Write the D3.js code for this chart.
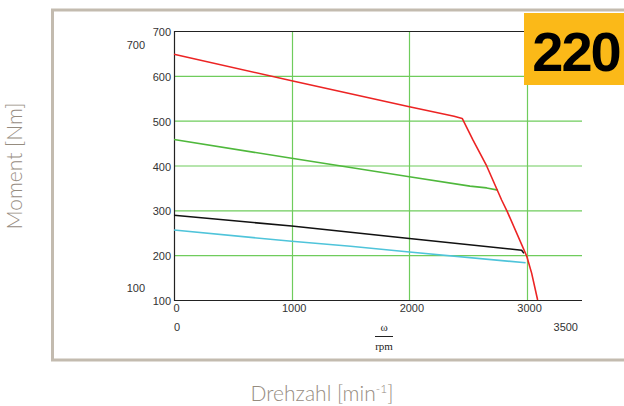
<!DOCTYPE html>
<html>
<head>
<meta charset="utf-8">
<script src="https://cdn.jsdelivr.net/npm/d3@7"></script>
<style>
  html, body { margin: 0; padding: 0; background: #fff; }
  svg { display: block; }
</style>
</head>
<body>
<svg id="chart" width="624" height="406"></svg>
<script>
// ---- data (rpm, Nm) ----
const redCurve   = [[0,648],[1000,589],[2000,531],[2380,510],[2449,505],[2540,457],[2657,399],[2784,323],[2832,297],[2997,198],[3039,160],[3090,100]];
const greenCurve = [[0,458],[1000,416],[2000,375],[2515,354],[2657,350],[2753,345]];
const blackCurve = [[0,289],[1000,265],[1500,251],[2000,237],[2954,211],[2974,204]];
const cyanCurve  = [[0,256],[1000,231],[1500,220],[2000,207],[2988,183]];
const xTicks = [0, 1000, 2000, 3000];
const yTicks = [100, 200, 300, 400, 500, 600, 700];
const xDomain = [0, 3467];
const yDomain = [100, 700];
const badgeText = "220";
const yTitle = "Moment [Nm]";

const svg = d3.select("#chart");
const x = d3.scaleLinear().domain(xDomain).range([174, 582]);
const y = d3.scaleLinear().domain(yDomain).range([300, 31]);

// panel frame
svg.append("rect").attr("x", 52.5).attr("y", 10).attr("width", 600).attr("height", 350)
  .attr("fill", "none").attr("stroke", "#c3bbaf").attr("stroke-width", 3);

// grid
const gridColor = "#6fcc5c";
svg.append("g").selectAll("line").data(yTicks.filter(v => v > 100 && v < 700)).join("line")
  .attr("x1", x(0)).attr("x2", x(xDomain[1])).attr("y1", d => y(d) + 0.5).attr("y2", d => y(d) + 0.5)
  .attr("stroke", gridColor).attr("stroke-width", 1.2);
svg.append("g").selectAll("line").data(xTicks.filter(v => v > 0)).join("line")
  .attr("x1", d => Math.round(x(d)) + 0.5).attr("x2", d => Math.round(x(d)) + 0.5)
  .attr("y1", y(700)).attr("y2", y(100))
  .attr("stroke", gridColor).attr("stroke-width", 1.2);

// frame lines (top, left, bottom)
const frame = svg.append("g").attr("stroke", "#222").attr("stroke-width", 1.2);
frame.append("line").attr("x1", x(0)).attr("x2", x(xDomain[1])).attr("y1", y(700) + 0.5).attr("y2", y(700) + 0.5);
frame.append("line").attr("x1", x(0)).attr("x2", x(xDomain[1])).attr("y1", y(100) + 0.5).attr("y2", y(100) + 0.5);
frame.append("line").attr("x1", x(0) + 0.5).attr("x2", x(0) + 0.5).attr("y1", y(700)).attr("y2", y(100) + 1);

// axes tick labels via d3 axes (no lines)
const tickFont = "'Liberation Sans', Arial, sans-serif";
const yAxis = svg.append("g").attr("transform", `translate(${x(0)},1)`)
  .call(d3.axisLeft(y).tickValues(yTicks).tickFormat(d3.format("d")).tickSize(0).tickPadding(3));
yAxis.select(".domain").remove();
yAxis.selectAll("text").attr("font-family", tickFont).attr("font-size", 11).attr("fill", "#333");

const xAxis = svg.append("g").attr("transform", `translate(2,${y(100)})`)
  .call(d3.axisBottom(x).tickValues(xTicks).tickFormat(d3.format("d")).tickSize(0).tickPadding(4));
xAxis.select(".domain").remove();
xAxis.selectAll("text").attr("font-family", tickFont).attr("font-size", 11).attr("fill", "#333");

// extra range labels
const extra = svg.append("g").attr("font-family", tickFont).attr("font-size", 11).attr("fill", "#333");
extra.append("text").attr("x", 145).attr("y", 49).attr("text-anchor", "end").text(yDomain[1]);
extra.append("text").attr("x", 145).attr("y", 292).attr("text-anchor", "end").text(yDomain[0]);
extra.append("text").attr("x", 177).attr("y", 331).attr("text-anchor", "middle").text(xDomain[0]);
extra.append("text").attr("x", 578).attr("y", 331).attr("text-anchor", "end").text("3500");

// omega / rpm
const frac = svg.append("g").attr("font-family", "'Liberation Serif', 'Times New Roman', serif").attr("fill", "#222");
frac.append("text").attr("x", 384).attr("y", 331).attr("text-anchor", "middle").attr("font-size", 11).text("ω");
frac.append("line").attr("x1", 375).attr("x2", 393).attr("y1", 336.5).attr("y2", 336.5).attr("stroke", "#222").attr("stroke-width", 1);
frac.append("text").attr("x", 384).attr("y", 350).attr("text-anchor", "middle").attr("font-size", 11).text("rpm");

// curves
const line = d3.line().x(d => x(d[0])).y(d => y(d[1]));
const series = [
  {data: cyanCurve, color: "#4fc4da"},
  {data: blackCurve, color: "#111111"},
  {data: greenCurve, color: "#4fb83c"},
  {data: redCurve, color: "#ec2424"}
];
svg.append("g").selectAll("path").data(series).join("path")
  .attr("d", d => line(d.data)).attr("fill", "none")
  .attr("stroke", d => d.color).attr("stroke-width", 1.6).attr("stroke-linejoin", "round");

// badge
svg.append("rect").attr("x", 524).attr("y", 13).attr("width", 100).attr("height", 72).attr("fill", "#fbb918");
svg.append("text").attr("x", 576).attr("y", 71).attr("text-anchor", "middle")
  .attr("font-family", "'Liberation Sans', Arial, Helvetica, sans-serif").attr("font-weight", "bold")
  .attr("font-size", 56).attr("letter-spacing", -2).attr("fill", "#000").text(badgeText);

// axis titles
const titleFont = "Lato, 'Open Sans', Helvetica, Arial, sans-serif";
svg.append("text").attr("transform", "translate(22,166) rotate(-90)").attr("text-anchor", "middle")
  .attr("font-family", titleFont).attr("font-weight", 300).attr("font-size", 21).attr("fill", "#968c7f")
  .text(yTitle);
const xt = svg.append("text").attr("x", 322).attr("y", 401).attr("text-anchor", "middle")
  .attr("font-family", titleFont).attr("font-weight", 300).attr("font-size", 21).attr("fill", "#968c7f");
xt.append("tspan").text("Drehzahl [min");
xt.append("tspan").attr("font-size", 12).attr("dy", -8).text("-1");
xt.append("tspan").attr("dy", 8).text("]");
</script>
</body>
</html>
